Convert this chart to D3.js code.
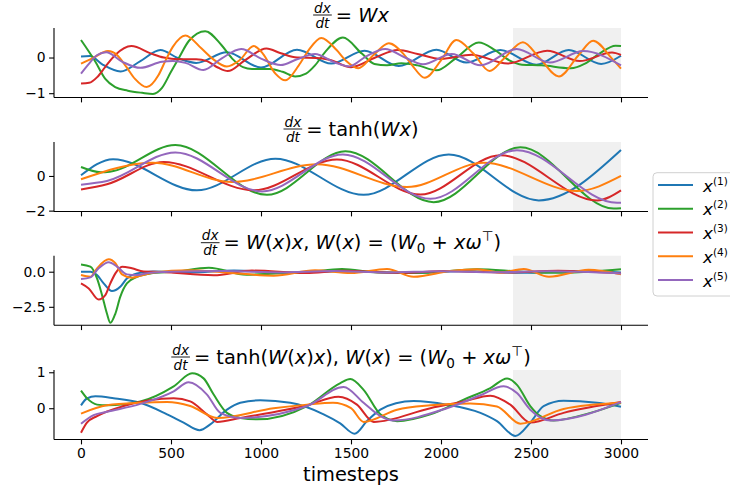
<!DOCTYPE html>
<html>
<head>
<meta charset="utf-8">
<script src="https://cdn.jsdelivr.net/npm/d3@7"></script>
<style>
  body { margin: 0; background: #fff; }
  text { font-family: "DejaVu Sans", sans-serif; }
</style>
</head>
<body>
<svg id="chart" width="730" height="490"></svg>
<script>
// ---- data: [timestep, value] ----
// panel 1: dx/dt = Wx
var p1_x1 = [[0,0.03],[50,0.04],[120,-0.2],[220,-0.39],[330,-0.1],[441,0.21],[540,-0.02],[640,-0.15],[810,0.15],[1000,-0.28],[1200,0.22],[1390,-0.17],[1575,0.19],[1765,-0.24],[1975,0.22],[2140,-0.14],[2330,0.21],[2530,-0.2],[2710,0.21],[2890,-0.18],[3000,0.05]];
var p1_x2 = [[0,0.49],[80,-0.12],[135,-0.6],[190,-0.83],[260,-0.93],[340,-0.99],[400,-1.02],[450,-0.85],[500,-0.4],[545,0.0],[600,0.47],[690,0.74],[780,0.35],[840,-0.03],[900,-0.27],[950,-0.32],[1050,-0.32],[1120,-0.4],[1190,-0.53],[1250,-0.45],[1300,-0.22],[1357,0.16],[1455,0.56],[1560,0.11],[1630,-0.18],[1700,-0.22],[1780,-0.16],[1870,-0.22],[1975,-0.36],[2080,-0.03],[2210,0.42],[2300,0.21],[2380,-0.08],[2450,-0.2],[2560,-0.22],[2720,-0.3],[2800,-0.17],[2880,0.11],[2970,0.33],[3000,0.32]];
var p1_x3 = [[0,-0.73],[45,-0.71],[90,-0.55],[135,-0.26],[190,0.07],[280,0.32],[390,0.11],[460,0.0],[540,-0.05],[640,-0.05],[700,-0.1],[760,-0.28],[815,-0.38],[910,-0.08],[1030,0.25],[1110,0.12],[1200,0.0],[1310,-0.01],[1380,-0.06],[1500,-0.27],[1635,0.0],[1760,0.21],[1870,0.1],[2000,-0.04],[2170,0.08],[2370,-0.17],[2590,0.19],[2770,-0.1],[2950,0.14],[3000,0.07]];
var p1_x4 = [[0,-0.17],[60,-0.03],[150,0.18],[200,0.07],[250,-0.25],[300,-0.6],[365,-0.83],[430,-0.5],[470,-0.08],[510,0.3],[580,0.62],[670,0.25],[730,-0.03],[810,-0.25],[880,-0.08],[960,0.32],[1010,0.11],[1080,-0.45],[1135,-0.64],[1210,-0.22],[1265,0.21],[1335,0.55],[1420,0.21],[1470,-0.08],[1540,-0.3],[1625,0.07],[1710,0.4],[1790,0.11],[1840,-0.22],[1910,-0.57],[2000,-0.08],[2085,0.49],[2180,0.11],[2270,-0.38],[2350,-0.03],[2455,0.43],[2550,-0.03],[2655,-0.53],[2765,0.07],[2845,0.47],[2950,-0.03],[3000,-0.31]];
var p1_x5 = [[0,-0.45],[45,-0.17],[90,0.07],[140,0.15],[230,-0.12],[330,-0.29],[450,-0.12],[510,-0.1],[580,-0.15],[680,-0.35],[780,-0.03],[890,0.24],[1000,-0.03],[1110,-0.21],[1200,-0.05],[1300,0.1],[1410,-0.14],[1490,-0.25],[1580,0.02],[1690,0.24],[1800,0.0],[1900,-0.19],[2060,0.1],[2220,-0.22],[2420,0.24],[2605,-0.14],[2790,0.18],[3000,-0.22]];

// panel 2: dx/dt = tanh(Wx)
var p2_x1 = [[0,0.04],[178,0.97],[644,-0.83],[1080,1.0],[1570,-1.09],[2043,1.24],[2543,-1.41],[3000,1.5]];
var p2_x2 = [[0,0.52],[110,0.22],[160,0.25],[524,1.78],[1033,-1.09],[1469,1.43],[1959,-1.51],[2441,1.65],[2959,-1.88],[3000,-1.86]];
var p2_x3 = [[0,-0.78],[144,-0.48],[459,0.81],[959,-0.83],[1422,0.95],[1885,-1.07],[2330,1.2],[2867,-1.41],[3000,-0.83]];
var p2_x4 = [[0,-0.19],[400,0.76],[839,-0.35],[1311,0.68],[1811,-0.64],[2237,0.76],[2756,-0.87],[3000,0.0]];
var p2_x5 = [[0,-0.5],[144,-0.29],[524,1.36],[1006,-0.89],[1455,1.24],[1941,-1.32],[2422,1.49],[2978,-1.55],[3000,-1.54]];

// panel 3: dx/dt = W(x)x
var p3_x1 = [[0,0.0],[52,0.0],[89,-0.24],[126,-0.83],[172,-1.38],[218,-1.07],[255,-0.48],[311,-0.12],[400,0.02],[600,-0.05],[850,0.08],[1150,-0.06],[1500,0.05],[1800,-0.1],[2100,0.03],[2450,-0.08],[2750,0.05],[3000,-0.05]];
var p3_x2 = [[0,0.52],[52,0.36],[89,-0.48],[117,-1.67],[144,-2.98],[163,-3.64],[191,-2.98],[218,-1.79],[255,-0.83],[311,-0.36],[385,-0.12],[520,0.0],[710,0.28],[920,-0.22],[1080,-0.12],[1250,-0.05],[1450,0.2],[1650,-0.05],[1900,-0.08],[2200,0.18],[2450,0.0],[2650,-0.08],[2850,0.02],[3000,0.17]];
var p3_x3 = [[0,-0.83],[43,-1.19],[98,-1.98],[135,-1.67],[163,-0.83],[191,-0.12],[228,0.36],[283,0.24],[348,0.02],[450,-0.02],[737,-0.25],[950,0.08],[1250,-0.1],[1450,0.06],[1750,-0.08],[2050,0.05],[2350,-0.05],[2650,0.06],[3000,-0.12]];
var p3_x4 = [[0,-0.24],[52,-0.36],[89,0.24],[154,0.88],[191,0.6],[228,-0.19],[283,-0.43],[330,-0.29],[404,-0.05],[600,0.1],[800,-0.05],[1070,-0.28],[1300,0.1],[1500,-0.1],[1700,0.2],[1848,-0.36],[2050,0.05],[2200,0.18],[2330,-0.05],[2460,0.2],[2600,-0.36],[2820,0.14],[3000,-0.19]];
var p3_x5 = [[0,-0.52],[52,-0.4],[98,0.24],[154,0.67],[200,0.36],[255,-0.19],[311,-0.24],[385,-0.07],[500,0.0],[800,0.05],[1100,-0.05],[1400,0.05],[1700,-0.06],[2000,0.04],[2300,-0.04],[2600,0.03],[3000,-0.12]];

// panel 4: dx/dt = tanh(W(x)x)
var p4_x1 = [[0,0.08],[33,0.27],[80,0.33],[181,0.28],[330,0.15],[478,-0.17],[570,-0.4],[659,-0.61],[718,-0.45],[811,-0.04],[885,0.15],[996,0.22],[1163,0.15],[1348,-0.17],[1440,-0.42],[1520,-0.71],[1590,-0.35],[1663,-0.04],[1750,0.14],[1848,0.2],[2033,0.1],[2219,-0.13],[2311,-0.36],[2413,-0.77],[2496,-0.4],[2570,0.06],[2681,0.21],[2867,0.15],[3000,0.04]];
var p4_x2 = [[0,0.49],[33,0.28],[89,0.1],[144,0.08],[330,0.19],[515,0.61],[617,0.97],[681,0.83],[737,0.38],[811,-0.13],[885,-0.27],[978,-0.31],[1256,0.06],[1441,0.7],[1496,0.81],[1570,0.51],[1663,-0.17],[1756,-0.36],[1941,-0.17],[2126,0.24],[2274,0.56],[2367,0.83],[2422,0.65],[2496,0.06],[2552,-0.22],[2626,-0.34],[2830,-0.13],[3000,0.15]];
var p4_x3 = [[0,-0.68],[33,-0.4],[89,-0.22],[237,0.06],[515,0.28],[607,0.19],[700,-0.17],[756,-0.38],[885,-0.27],[1256,0.08],[1430,0.32],[1533,0.1],[1626,-0.38],[1941,0.0],[2126,0.19],[2274,0.35],[2385,0.1],[2496,-0.4],[2681,-0.13],[3000,0.17]];
var p4_x4 = [[0,-0.15],[144,0.08],[330,0.15],[478,0.17],[607,0.06],[756,-0.27],[1070,0.0],[1256,0.1],[1400,0.15],[1500,0.0],[1570,-0.38],[1756,-0.04],[1941,0.08],[2163,0.13],[2311,0.05],[2441,-0.43],[2681,-0.02],[3000,0.15]];
var p4_x5 = [[0,-0.43],[70,-0.19],[144,-0.1],[330,0.12],[515,0.47],[598,0.72],[700,0.38],[774,-0.13],[885,-0.27],[1256,0.06],[1459,0.59],[1570,0.15],[1663,-0.22],[1737,-0.34],[2033,0.0],[2219,0.36],[2348,0.61],[2422,0.42],[2496,-0.04],[2607,-0.34],[3000,0.17]];

var seriesLabels = ['(1)', '(2)', '(3)', '(4)', '(5)'];
var seriesColors = ['#1f77b4', '#2ca02c', '#d62728', '#ff7f0e', '#9467bd'];
var xTicks = [0, 500, 1000, 1500, 2000, 2500, 3000];
var testWindow = [2400, 3000];

// title pieces: [text, style]  (i = italic, sub, sup)
var title1 = [['= '], ['Wx', 'i']];
var title2 = [['= tanh('], ['Wx', 'i'], [')']];
var title3 = [['= '], ['W', 'i'], ['('], ['x', 'i'], [')'], ['x', 'i'], [', '], ['W', 'i'], ['('], ['x', 'i'], [') = ('], ['W', 'i'], ['0', 'sub'], [' + '], ['xω', 'i'], ['⊤', 'sup'], [')']];
var title4 = [['= tanh('], ['W', 'i'], ['('], ['x', 'i'], [')'], ['x', 'i'], ['), '], ['W', 'i'], ['('], ['x', 'i'], [') = ('], ['W', 'i'], ['0', 'sub'], [' + '], ['xω', 'i'], ['⊤', 'sup'], [')']];

// ---- layout ----
var svg = d3.select('#chart');
svg.append('rect').attr('width', 730).attr('height', 490).attr('fill', '#fff');

var left = 54, right = 648, panelH = 69.5;
var x = d3.scaleLinear().domain([-150, 3150]).range([left, right]);

var panels = [
  { series: [p1_x1, p1_x2, p1_x3, p1_x4, p1_x5], top: 28, dom: [-1.121, 0.828], ticks: [-1, 0], fmt: d3.format('d'), title: title1 },
  { series: [p2_x1, p2_x2, p2_x3, p2_x4, p2_x5], top: 142, dom: [-2.05, 1.96], ticks: [-2, 0], fmt: d3.format('d'), title: title2 },
  { series: [p3_x1, p3_x2, p3_x3, p3_x4, p3_x5], top: 255.7, dom: [-3.81, 1.14], ticks: [-2.5, 0], fmt: d3.format('.1f'), title: title3 },
  { series: [p4_x1, p4_x2, p4_x3, p4_x4, p4_x5], top: 370, dom: [-0.87, 1.063], ticks: [0, 1], fmt: d3.format('d'), title: title4 }
];

function minus(s) { return s.replace('-', '\u2212'); }

function drawTitle(cx, baseline, parts) {
  var g = svg.append('g');
  var fs = 13.6;
  var num = g.append('text').attr('font-size', fs).attr('font-style', 'italic').attr('text-anchor', 'middle').text('dx');
  var den = g.append('text').attr('font-size', fs).attr('font-style', 'italic').attr('text-anchor', 'middle').text('dt');
  var fw = Math.max(num.node().getComputedTextLength(), den.node().getComputedTextLength()) + 2;
  num.attr('x', fw / 2).attr('y', baseline - 9);
  den.attr('x', fw / 2).attr('y', baseline + 6);
  g.append('line').attr('x1', 0).attr('x2', fw).attr('y1', baseline - 6.5).attr('y2', baseline - 6.5)
    .attr('stroke', '#000').attr('stroke-width', 0.9);
  var main = g.append('text').attr('x', fw + 4).attr('y', baseline).attr('font-size', 19.4)
    .attr('xml:space', 'preserve');
  var off = 0;
  parts.forEach(function (p) {
    var ts = main.append('tspan').text(p[0]);
    var target = 0;
    if (p[1] === 'i') ts.attr('font-style', 'italic');
    if (p[1] === 'sub') { ts.attr('font-size', 13.6); target = 4; }
    if (p[1] === 'sup') { ts.attr('font-size', 13.6); target = -8; }
    if (target !== off) { ts.attr('dy', target - off); off = target; }
  });
  var w = fw + 4 + main.node().getComputedTextLength();
  g.attr('transform', 'translate(' + (cx - w / 2) + ',0)');
}

panels.forEach(function (p, pi) {
  var bottom = p.top + panelH;
  var y = d3.scaleLinear().domain(p.dom).range([bottom, p.top]);
  var g = svg.append('g');

  // shaded window
  g.append('rect')
    .attr('x', x(testWindow[0])).attr('width', x(testWindow[1]) - x(testWindow[0]))
    .attr('y', p.top).attr('height', panelH)
    .attr('fill', '#f0f0f0');

  var line = d3.line()
    .x(function (d) { return x(d[0]); })
    .y(function (d) { return y(d[1]); })
    .curve(d3.curveMonotoneX);

  p.series.forEach(function (s, si) {
    g.append('path').datum(s)
      .attr('d', line)
      .attr('fill', 'none')
      .attr('stroke', seriesColors[si])
      .attr('stroke-width', 2);
  });

  // x axis
  var xa = g.append('g').attr('transform', 'translate(0,' + bottom + ')')
    .call(d3.axisBottom(x).tickValues(xTicks).tickSize(4.9).tickPadding(3.5)
      .tickFormat(pi === panels.length - 1 ? d3.format('d') : function () { return ''; }));
  xa.select('.domain').attr('stroke-width', 1.1).attr('d', 'M' + left + ',0H' + right);
  xa.selectAll('.tick line').attr('stroke-width', 1.1);
  xa.selectAll('text').attr('font-size', 13.9).attr('fill', '#000').attr('font-family', 'DejaVu Sans');

  // y axis
  var ya = g.append('g').attr('transform', 'translate(' + left + ',0)')
    .call(d3.axisLeft(y).tickValues(p.ticks).tickSize(4.9).tickPadding(3.5)
      .tickFormat(function (d) { return minus(p.fmt(d)); }));
  ya.select('.domain').attr('stroke-width', 1.1).attr('d', 'M0,' + p.top + 'V' + bottom);
  ya.selectAll('.tick line').attr('stroke-width', 1.1);
  ya.selectAll('text').attr('font-size', 13.9).attr('fill', '#000').attr('font-family', 'DejaVu Sans');

  drawTitle((left + right) / 2, p.top - 6.5, p.title);
});

// x label
svg.append('text').attr('x', (left + right) / 2).attr('y', 481)
  .attr('text-anchor', 'middle').attr('font-size', 19.4).text('timesteps');

// legend
var lg = svg.append('g');
lg.append('rect').attr('x', 653).attr('y', 172.7).attr('width', 95).attr('height', 123.3)
  .attr('rx', 4).attr('fill', '#fff').attr('fill-opacity', 0.8)
  .attr('stroke', '#d0d0d0').attr('stroke-width', 1);
seriesLabels.forEach(function (lab, i) {
  var yy = 185 + i * 23.75;
  lg.append('line').attr('x1', 658).attr('x2', 693).attr('y1', yy).attr('y2', yy)
    .attr('stroke', seriesColors[i]).attr('stroke-width', 2);
  var t = lg.append('text').attr('x', 703).attr('y', yy + 6.5).attr('font-size', 16.7);
  t.append('tspan').attr('font-style', 'italic').text('x');
  t.append('tspan').attr('font-size', 10.5).attr('dy', -7).text(lab);
});
</script>
</body>
</html>
